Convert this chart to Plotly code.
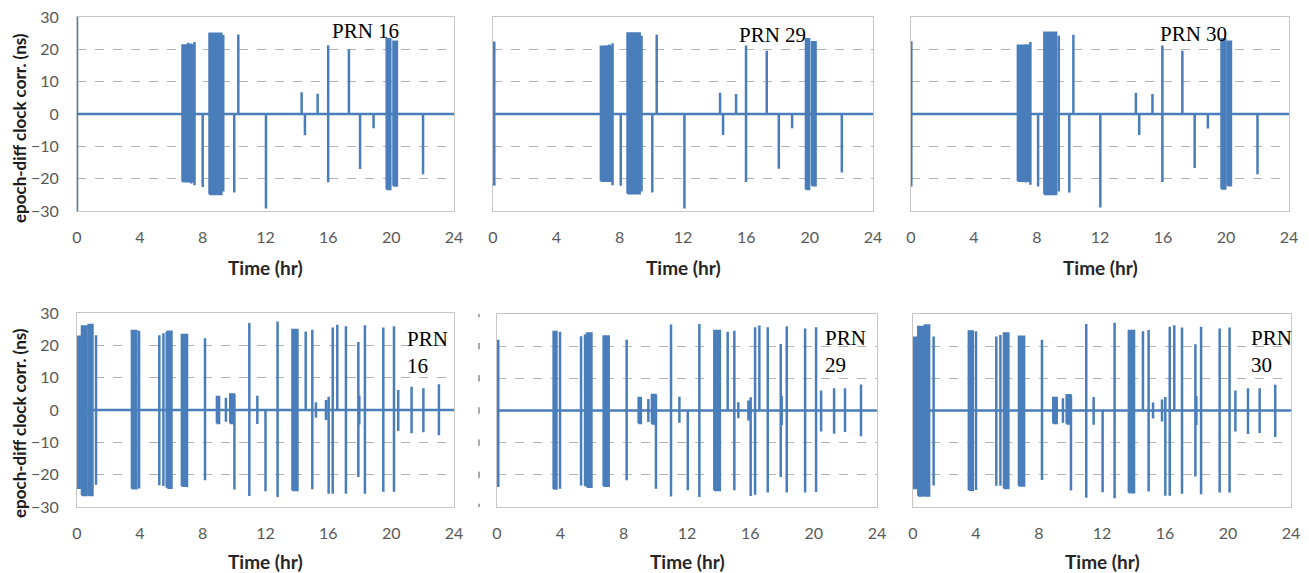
import plotly.graph_objects as go

BLUE = "#4a7ebb"
X_TICKS = [0, 4, 8, 12, 16, 20, 24]
Y_TICKS = [-30, -20, -10, 0, 10, 20, 30]
X_TITLE = "Time (hr)"
Y_TITLE = "epoch-diff clock corr. (ns)"

# ---------------- top row (spikes: time, up value, down value; bursts: start, end, top, bottom)
top16_spike_t = [0.0, 7.08, 7.27, 7.48, 8.0, 9.31, 10.01, 10.27, 12.03, 14.3, 14.51, 15.32, 15.99, 17.31, 18.02, 18.88, 22.03]
top16_spike_up = [30.0, 22.0, 21.8, 22.3, 0, 24.4, 0, 24.6, 0, 6.7, 0, 6.3, 21.3, 20.0, 0, 0, 0]
top16_spike_dn = [-30.0, -21.0, -21.5, -22.0, -22.6, -24.0, -24.3, 0, -29.2, 0, -6.6, 0, -21.1, 0, -17.0, -4.4, -18.6]
top16_burst_t0 = [6.70, 8.42, 19.70, 20.13]
top16_burst_t1 = [7.45, 9.21, 19.96, 20.38]
top16_burst_top = [21.3, 24.9, 23.2, 22.4]
top16_burst_bot = [-20.9, -24.8, -23.3, -22.2]

top29_spike_t = [0.08, 7.15, 7.35, 7.55, 8.07, 9.38, 10.06, 10.34, 12.09, 14.34, 14.53, 15.35, 15.98, 17.29, 18.05, 18.89, 22.03]
top29_spike_up = [22.4, 21.2, 21.5, 21.9, 0, 24.2, 0, 24.5, 0, 6.6, 0, 6.2, 21.2, 19.6, 0, 0, 0]
top29_spike_dn = [-22.2, -20.8, -21.0, -22.0, -22.2, -24.0, -24.3, 0, -29.2, 0, -6.5, 0, -21.0, 0, -16.9, -4.4, -18.1]
top29_burst_t0 = [6.80, 8.48, 19.75, 20.13]
top29_burst_t1 = [7.52, 9.28, 19.98, 20.39]
top29_burst_top = [20.9, 25.0, 23.2, 22.3]
top29_burst_bot = [-20.7, -24.6, -23.3, -22.1]

top30_spike_t = [0.02, 7.10, 7.30, 7.58, 8.07, 9.38, 10.05, 10.31, 12.02, 14.28, 14.49, 15.33, 15.96, 17.23, 18.01, 18.85, 22.0]
top30_spike_up = [22.5, 21.3, 21.5, 22.3, 0, 24.2, 0, 24.5, 0, 6.6, 0, 6.2, 21.2, 19.6, 0, 0, 0]
top30_spike_dn = [-22.4, -20.8, -21.2, -21.9, -22.4, -24.0, -24.3, 0, -28.9, 0, -6.5, 0, -21.0, 0, -16.7, -4.5, -18.6]
top30_burst_t0 = [6.77, 8.45, 19.70, 20.08]
top30_burst_t1 = [7.50, 9.23, 19.97, 20.33]
top30_burst_top = [21.2, 25.2, 23.2, 22.4]
top30_burst_bot = [-20.7, -24.8, -23.1, -22.1]

# ---------------- bottom row
bot16_spike_t = [1.21, 3.95, 5.24, 5.50, 5.71, 8.15, 9.48, 10.02, 10.97, 11.48, 12.0, 12.77, 14.56, 14.98, 15.21, 15.85, 16.02, 16.28, 16.57, 17.12, 17.91, 17.97, 18.33, 19.50, 20.18, 20.45, 21.30, 22.05, 23.04]
bot16_spike_up = [23.1, 24.5, 23.1, 23.7, 24.1, 22.2, 3.8, 4.9, 26.9, 4.4, 0, 27.4, 24.3, 24.8, 2.4, 3.1, 4.1, 25.5, 26.4, 25.9, 21.0, 4.5, 26.2, 25.5, 25.9, 6.2, 7.2, 6.7, 8.0]
bot16_spike_dn = [-23.1, -24.3, -23.3, -23.5, -24.0, -21.7, -3.6, -24.6, -26.6, -4.3, -25.1, -26.9, 0, -24.5, -2.4, -3.1, -25.9, -25.9, 0, -25.9, -20.7, -4.5, -25.9, -25.3, -25.3, -6.5, -7.2, -6.9, -7.8]
bot16_burst_t0 = [0.0, 0.30, 0.72, 3.48, 5.75, 6.66, 8.89, 9.74, 13.70]
bot16_burst_t1 = [0.30, 0.62, 1.0, 3.80, 6.03, 7.02, 9.06, 10.0, 14.05]
bot16_burst_top = [22.7, 25.9, 26.4, 24.5, 24.3, 23.3, 4.1, 4.9, 24.8]
bot16_burst_bot = [-24.1, -26.4, -26.4, -24.3, -24.1, -23.5, -4.1, -4.1, -24.8]

bot29_spike_t = [0.08, 3.98, 5.31, 5.56, 8.19, 9.56, 10.04, 10.99, 11.52, 12.05, 12.78, 14.57, 14.99, 15.24, 15.88, 16.02, 16.30, 16.57, 17.10, 17.92, 17.98, 18.30, 19.46, 20.15, 20.47, 21.29, 21.98, 22.99]
bot29_spike_up = [22.0, 24.5, 23.1, 23.6, 22.0, 3.6, 4.9, 26.7, 4.3, 0, 26.9, 24.5, 24.8, 2.6, 3.1, 4.1, 25.9, 26.4, 25.9, 20.7, 4.5, 26.2, 25.5, 25.9, 6.2, 6.9, 6.9, 8.1]
bot29_spike_dn = [-23.8, -24.3, -23.3, -23.5, -21.7, -3.6, -24.3, -26.7, -3.8, -24.8, -26.9, 0, -24.8, -2.4, -3.1, -26.6, -26.2, 0, -25.5, -20.7, -4.5, -25.5, -25.5, -25.3, -6.5, -7.2, -6.7, -8.0]
bot29_burst_t0 = [3.56, 5.67, 6.72, 8.93, 9.77, 13.71]
bot29_burst_t1 = [3.77, 5.98, 7.07, 9.10, 10.02, 14.09]
bot29_burst_top = [24.5, 24.0, 23.1, 4.0, 4.9, 24.8]
bot29_burst_bot = [-24.3, -23.8, -23.5, -4.0, -4.1, -24.8]

bot30_spike_t = [1.31, 4.0, 5.29, 5.55, 8.19, 9.52, 10.03, 11.0, 11.47, 12.04, 12.8, 14.6, 14.96, 15.24, 15.81, 16.02, 16.30, 16.59, 17.08, 17.93, 17.99, 18.29, 19.47, 20.10, 20.47, 21.27, 22.01, 23.0]
bot30_spike_up = [23.0, 24.6, 23.0, 23.5, 22.0, 3.8, 4.8, 26.9, 4.2, 0, 27.3, 24.6, 25.0, 2.5, 3.4, 4.2, 26.0, 26.5, 25.8, 20.6, 4.5, 26.0, 25.5, 25.8, 6.2, 6.9, 6.9, 8.0]
bot30_spike_dn = [-23.3, -24.7, -23.4, -23.4, -21.6, -3.8, -24.9, -27.1, -4.4, -25.4, -27.3, 0, -25.2, -2.5, -3.4, -26.5, -26.5, 0, -25.9, -20.5, -4.5, -26.0, -25.5, -25.5, -6.5, -7.3, -7.0, -8.2]
bot30_burst_t0 = [0.0, 0.32, 0.74, 3.53, 5.76, 6.71, 8.89, 9.74, 13.69]
bot30_burst_t1 = [0.30, 0.66, 1.04, 3.81, 6.07, 7.07, 9.14, 10.0, 14.05]
bot30_burst_top = [22.7, 26.0, 26.5, 24.6, 24.0, 23.0, 4.0, 4.8, 24.8]
bot30_burst_bot = [-24.2, -26.5, -26.5, -24.7, -24.2, -23.4, -4.0, -4.1, -25.5]

PRN_LABELS = ["PRN 16", "PRN 29", "PRN 30", "PRN<br>16", "PRN<br>29", "PRN<br>30"]

panels = [
    (top16_spike_t, top16_spike_up, top16_spike_dn, top16_burst_t0, top16_burst_t1, top16_burst_top, top16_burst_bot),
    (top29_spike_t, top29_spike_up, top29_spike_dn, top29_burst_t0, top29_burst_t1, top29_burst_top, top29_burst_bot),
    (top30_spike_t, top30_spike_up, top30_spike_dn, top30_burst_t0, top30_burst_t1, top30_burst_top, top30_burst_bot),
    (bot16_spike_t, bot16_spike_up, bot16_spike_dn, bot16_burst_t0, bot16_burst_t1, bot16_burst_top, bot16_burst_bot),
    (bot29_spike_t, bot29_spike_up, bot29_spike_dn, bot29_burst_t0, bot29_burst_t1, bot29_burst_top, bot29_burst_bot),
    (bot30_spike_t, bot30_spike_up, bot30_spike_dn, bot30_burst_t0, bot30_burst_t1, bot30_burst_top, bot30_burst_bot),
]

# ---------------- layout geometry (pixels)
W, H = 1309, 573
boxes = [  # (left, right, top, bottom)
    (77, 454, 17, 211), (493, 873, 17, 211), (911, 1289, 17, 211),
    (77, 454, 313, 507), (497, 877, 314, 507), (913, 1291, 314, 507),
]
label_pos = [  # (x, y, anchor) for the PRN labels
    (365, 31, "center"), (772, 35, "center"), (1193, 34, "center"),
    (405, 352, "left"), (823, 351, "left"), (1249, 351, "left"),
]

fig = go.Figure()
layout = dict(
    width=W, height=H, margin=dict(l=0, r=0, t=0, b=0, autoexpand=False),
    paper_bgcolor="white", plot_bgcolor="white", showlegend=False,
    font=dict(family="Lato", color="#595959"),
)
annotations = []
shapes = []

for i, (st, su, sd, b0, b1, bt, bb) in enumerate(panels):
    n = i + 1
    xa, ya = f"x{n}", f"y{n}"
    # bursts as filled blocks
    bx, by = [], []
    for t0, t1, top, bot in zip(b0, b1, bt, bb):
        bx += [t0, t0, t1, t1, t0, None]
        by += [bot, top, top, bot, bot, None]
    # spikes path along the baseline
    ev = sorted(zip(st, su, sd))
    lx, ly = [0.0], [0.0]
    for t, u, d in ev:
        lx += [t, t, t, t]
        ly += [0.0, u, d, 0.0]
    lx.append(24.0)
    ly.append(0.0)
    fig.add_trace(go.Scatter(x=lx, y=ly, mode="lines", xaxis=xa, yaxis=ya,
                             line=dict(color=BLUE, width=2.5), hoverinfo="skip"))
    fig.add_trace(go.Scatter(x=bx, y=by, mode="lines", fill="toself", fillcolor=BLUE,
                             xaxis=xa, yaxis=ya, line=dict(color=BLUE, width=2),
                             hoverinfo="skip"))

    l, r, t, b = boxes[i]
    left_col = i in (0, 3)
    layout[f"xaxis{n}"] = dict(
        domain=[l / W, r / W], anchor=ya, range=[0, 24], tickvals=X_TICKS,
        showgrid=False, zeroline=False, showline=True, mirror=True, automargin=False,
        linecolor="#c6c6c6", linewidth=1, ticks="", ticklabelstandoff=12,
        tickfont=dict(family="Lato", size=16, color="#595959"),
    )
    layout[f"yaxis{n}"] = dict(
        domain=[1 - b / H, 1 - t / H], anchor=xa, range=[-30, 30], tickvals=Y_TICKS,
        showgrid=True, griddash="dash", gridcolor="#b3b3b3", gridwidth=1, automargin=False,
        zeroline=False, showline=True, mirror=True, linecolor="#c6c6c6", linewidth=1,
        ticks="", showticklabels=left_col, ticklabelstandoff=14,
        tickfont=dict(family="Lato", size=16, color="#595959"),
    )
    # x-axis title
    annotations.append(dict(
        text=f"<b>{X_TITLE}</b>", xref="paper", yref="paper",
        x=(l + r) / 2 / W, y=1 - (267 if i < 3 else 561) / H,
        xanchor="center", yanchor="middle", showarrow=False,
        font=dict(family="Lato", size=19, color="#262626"),
    ))
    if left_col:
        annotations.append(dict(
            text=f"<b>{Y_TITLE}</b>", xref="paper", yref="paper",
            x=20 / W, y=1 - (128 if i < 3 else 423) / H, textangle=-90,
            xanchor="center", yanchor="middle", showarrow=False,
            font=dict(family="Lato", size=17, color="#1a1a1a"),
        ))
    px, py, anc = label_pos[i]
    annotations.append(dict(
        text=PRN_LABELS[i], xref="paper", yref="paper", x=px / W, y=1 - py / H,
        xanchor=anc, yanchor="middle", align="left", showarrow=False,
        font=dict(family="Liberation Serif", size=21, color="black"),
    ))

# remnant tick marks left of the bottom-middle panel
for v in Y_TICKS:
    shapes.append(dict(type="line", xref="paper", yref="y5", x0=479 / W, x1=479 / W,
                       y0=v - 1.0, y1=v + 1.0, line=dict(color="#555555", width=1)))

layout["annotations"] = annotations
layout["shapes"] = shapes
fig.update_layout(**layout)
fig.write_html(
    "out.html",
    config={"displayModeBar": False},
    post_script="document.body.style.margin='0';document.body.style.overflow='hidden';",
)
